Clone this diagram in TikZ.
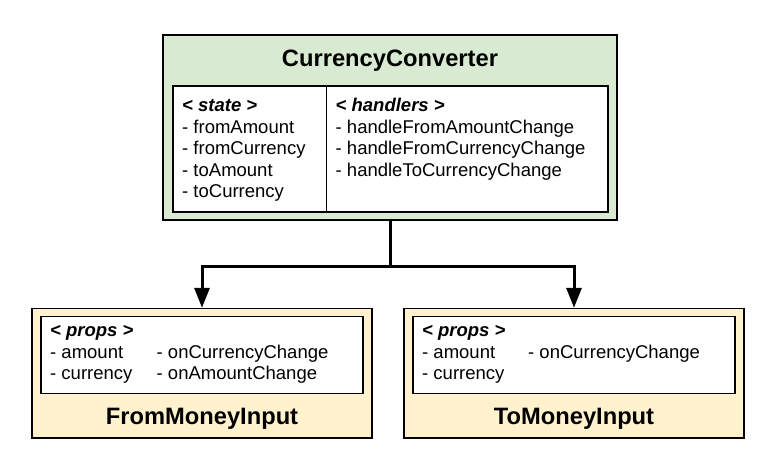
\documentclass[tikz,border=0pt]{standalone}
\usepackage{fontspec}
\setmainfont{Liberation Sans}
\usetikzlibrary{arrows.meta}
\definecolor{boxgreen}{HTML}{D9EAD3}
\definecolor{boxyellow}{HTML}{FFF2CC}
\tikzset{
  outerbox/.style={draw=black, line width=1.4pt, rectangle, inner sep=0pt},
  innerbox/.style={draw=black, line width=1.1pt, fill=white, rectangle, inner sep=0pt},
  titletext/.style={anchor=base, inner sep=0pt, font=\fontsize{23.7}{28}\selectfont\bfseries},
  bodytext/.style={anchor=base west, inner sep=0pt, font=\fontsize{18.5}{21.5}\selectfont},
  headtext/.style={anchor=base west, inner sep=0pt, font=\fontsize{18.5}{21.5}\selectfont\bfseries\itshape},
  conn/.style={line width=3pt, draw=black},
  arr/.style={conn, -{Triangle[length=20pt,width=15pt]}}
}
\begin{document}
\begin{tikzpicture}[x=1pt,y=-1pt]
\useasboundingbox (0,0) rectangle (774,474);
\fill[white] (0,0) rectangle (774,474);

% top box
\node[outerbox, fill=boxgreen, minimum width=454pt, minimum height=185pt] (top) at (390,127.5) {};
\node[innerbox, minimum width=435pt, minimum height=126pt] (topin) at (390.5,149) {};
\coordinate (divt) at (326.5,86);
\coordinate (divb) at (326.5,212);
\draw[line width=1.1pt] (divt) -- (divb);
\node[titletext] (ttl) at (390,66) {CurrencyConverter};
\node[headtext] (st0) at (182,111.7) {< state >};
\node[bodytext] (st1) at (182,133.2) {- fromAmount};
\node[bodytext] (st2) at (182,154.7) {- fromCurrency};
\node[bodytext] (st3) at (182,176.2) {- toAmount};
\node[bodytext] (st4) at (182,197.7) {- toCurrency};
\node[headtext] (h0) at (335.5,111.7) {< handlers >};
\node[bodytext] (h1) at (335.5,133.2) {- handleFromAmountChange};
\node[bodytext] (h2) at (335.5,154.7) {- handleFromCurrencyChange};
\node[bodytext] (h3) at (335.5,176.2) {- handleToCurrencyChange};

% bottom left
\node[outerbox, fill=boxyellow, minimum width=340pt, minimum height=129.5pt] (from) at (202,373.25) {};
\node[innerbox, minimum width=322pt, minimum height=77pt] (fromin) at (202,355) {};
\node[headtext] (fp0) at (50,336.7) {< props >};
\node[bodytext] (fp1) at (50,358.2) {- amount};
\node[bodytext] (fp2) at (50,379.7) {- currency};
\node[bodytext] (fp3) at (156.5,358.2) {- onCurrencyChange};
\node[bodytext] (fp4) at (156.5,379.7) {- onAmountChange};
\node[titletext] (fttl) at (202,424.3) {FromMoneyInput};

% bottom right
\node[outerbox, fill=boxyellow, minimum width=340pt, minimum height=129.5pt] (to) at (574,373.25) {};
\node[innerbox, minimum width=322pt, minimum height=77pt] (toin) at (574,355) {};
\node[headtext] (tp0) at (422,336.7) {< props >};
\node[bodytext] (tp1) at (422,358.2) {- amount};
\node[bodytext] (tp2) at (422,379.7) {- currency};
\node[bodytext] (tp3) at (528,358.2) {- onCurrencyChange};
\node[titletext] (tttl) at (574,424.3) {ToMoneyInput};

% connectors
\coordinate (junc) at (390,266);
\draw[conn] (top.south) -- (junc);
\draw[arr] (junc) -| (from.north);
\draw[arr] (junc) -| (to.north);
\end{tikzpicture}
\end{document}
